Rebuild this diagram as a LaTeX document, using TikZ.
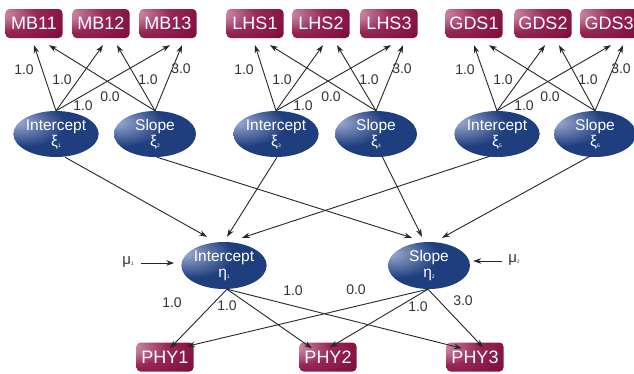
\documentclass[tikz,border=0pt]{standalone}
\usepackage{fontspec}
\setmainfont{Liberation Sans}
\usetikzlibrary{arrows.meta,calc,shapes.geometric}
\definecolor{navy}{HTML}{1F3E7E}
\definecolor{navylt}{HTML}{A0AED2}
\definecolor{maroon}{HTML}{962856}
\definecolor{maroonlt}{HTML}{DDAABF}
\definecolor{maroondk}{HTML}{76002E}
\definecolor{lbl}{HTML}{333333}
\pgfdeclareradialshading{ellshade}{\pgfpoint{-24bp}{14bp}}{color(0bp)=(navylt);color(24bp)=(navy);color(100bp)=(navy)}
\pgfdeclareradialshading{boxshade}{\pgfpoint{-36bp}{20bp}}{color(0bp)=(maroonlt);color(28bp)=(maroon);color(62bp)=(maroondk);color(100bp)=(maroondk)}
\newcommand{\sbs}[1]{\raisebox{-1pt}{\fontsize{5}{5}\selectfont #1}}
\tikzset{
  obs/.style={rectangle, rounded corners=4pt, shading=boxshade, minimum width=57pt, minimum height=29pt, inner sep=0pt, text=white, font=\fontsize{18}{18}\selectfont},
  lat/.style={ellipse, shading=ellshade, minimum width=82pt, minimum height=46pt, inner sep=0pt, text=white, font=\fontsize{15.5}{16}\selectfont, align=center},
  arr/.style={draw=black!85, line width=0.9pt, -{Stealth[length=8pt,width=5.5pt]}},
  lab/.style={text=lbl, font=\fontsize{14}{14}\selectfont, inner sep=0pt},
  mulab/.style={text=lbl, font=\fontsize{15}{15}\selectfont, inner sep=0pt}
}
\begin{document}
\begin{tikzpicture}[x=1pt,y=-1pt]
\useasboundingbox (0,0) rectangle (634,373);
% observed top
\node[obs] (MB11) at (34,23.5) {MB11};
\node[obs] (MB12) at (101,23.5) {MB12};
\node[obs] (MB13) at (168,23.5) {MB13};
\node[obs] (LHS1) at (255,23.5) {LHS1};
\node[obs] (LHS2) at (321,23.5) {LHS2};
\node[obs] (LHS3) at (389,23.5) {LHS3};
\node[obs] (GDS1) at (474,23.5) {GDS1};
\node[obs] (GDS2) at (543,23.5) {GDS2};
\node[obs] (GDS3) at (609,23.5) {GDS3};
% latent xi
\node[lat] (xi1) at (56,134) {Intercept\\ξ\sbs{1}};
\node[lat] (xi2) at (155,134) {Slope\\ξ\sbs{2}};
\node[lat] (xi3) at (276,134) {Intercept\\ξ\sbs{3}};
\node[lat] (xi4) at (376,134) {Slope\\ξ\sbs{4}};
\node[lat] (xi5) at (497,134) {Intercept\\ξ\sbs{5}};
\node[lat] (xi6) at (595,134) {Slope\\ξ\sbs{6}};
% eta
\node[lat, minimum height=47pt] (eta1) at (224,265.5) {Intercept\\η\sbs{1}};
\node[lat, minimum height=47pt] (eta2) at (429,265.5) {Slope\\η\sbs{2}};
% phy
\node[obs] (PHY1) at (165,357) {PHY1};
\node[obs] (PHY2) at (328,357) {PHY2};
\node[obs] (PHY3) at (475,357) {PHY3};
% mu
\node[mulab] (mu1) at (128,262) {μ\sbs{1}};
\node[mulab] (mu2) at (514,260) {μ\sbs{2}};
% top arrows
\foreach \i/\s/\a/\b/\c in {xi1/xi2/MB11/MB12/MB13, xi3/xi4/LHS1/LHS2/LHS3, xi5/xi6/GDS1/GDS2/GDS3}{
  \draw[arr] (\i.north) -- ([yshift=-7pt]\a.south);
  \draw[arr] (\i.north) -- ([xshift=2pt,yshift=-7pt]\b.south);
  \draw[arr] (\i.north) -- ([xshift=2pt,yshift=-7pt]\c.south);
  \draw[arr] (\s.north) -- ([xshift=15pt,yshift=-7pt]\a.south);
  \draw[arr] (\s.north) -- ([xshift=16pt,yshift=-7pt]\b.south);
  \draw[arr] (\s.north) -- ([xshift=14pt,yshift=-7pt]\c.south);
}
% top labels
\foreach \ci/\cs in {56/155, 276/376, 497/595}{
  \node[lab] at (\ci-32,70) {1.0};
  \node[lab] at (\ci+6,80) {1.0};
  \node[lab] at (\ci+27,106) {1.0};
  \node[lab] at (\cs-45,97) {0.0};
  \node[lab] at (\cs-7,80) {1.0};
  \node[lab] at (\cs+26,69) {3.0};
}
% middle arrows
\draw[arr] ([xshift=9pt]xi1.south) -- ([xshift=-17pt,yshift=5pt]eta1.north);
\draw[arr] ([xshift=1pt]xi3.south) -- ([xshift=3pt,yshift=5pt]eta1.north);
\draw[arr] ([xshift=-7pt,yshift=1pt]xi5.south) -- ([xshift=18pt,yshift=4pt]eta1.north);
\draw[arr] ([xshift=2pt]xi2.south) -- ([xshift=-17pt,yshift=4pt]eta2.north);
\draw[arr] ([xshift=6pt,yshift=1pt]xi4.south) -- ([xshift=-7pt,yshift=5pt]eta2.north);
\draw[arr] ([xshift=-5pt,yshift=1pt]xi6.south) -- ([xshift=13pt,yshift=4pt]eta2.north);
% mu arrows
\draw[arr] ($(mu1.east)+(7,1)$) -- ($(mu1.east -| eta1.west)+(-7,1)$);
\draw[arr] ($(mu2.west)+(-6,1)$) -- ($(mu2.west -| eta2.east)+(3,1)$);
% bottom arrows
\draw[arr] ([xshift=3pt]eta1.south) -- ([xshift=5pt,yshift=-6pt]PHY1.north);
\draw[arr] ([xshift=3pt]eta1.south) -- ([xshift=-16pt,yshift=-6pt]PHY2.north);
\draw[arr] ([xshift=3pt]eta1.south) -- ([xshift=-13pt,yshift=-6pt]PHY3.north);
\draw[arr] ([xshift=-1pt]eta2.south) -- ([xshift=22pt,yshift=-4pt]PHY1.north);
\draw[arr] ([xshift=-1pt]eta2.south) -- ([xshift=2pt,yshift=-5pt]PHY2.north);
\draw[arr] ([xshift=-1pt]eta2.south) -- ([xshift=8pt,yshift=-5pt]PHY3.north);
% bottom labels
\node[lab] at (172,303) {1.0};
\node[lab] at (227,306) {1.0};
\node[lab] at (293,291) {1.0};
\node[lab] at (356,290) {0.0};
\node[lab] at (418,307) {1.0};
\node[lab] at (463,301) {3.0};
\end{tikzpicture}
\end{document}
